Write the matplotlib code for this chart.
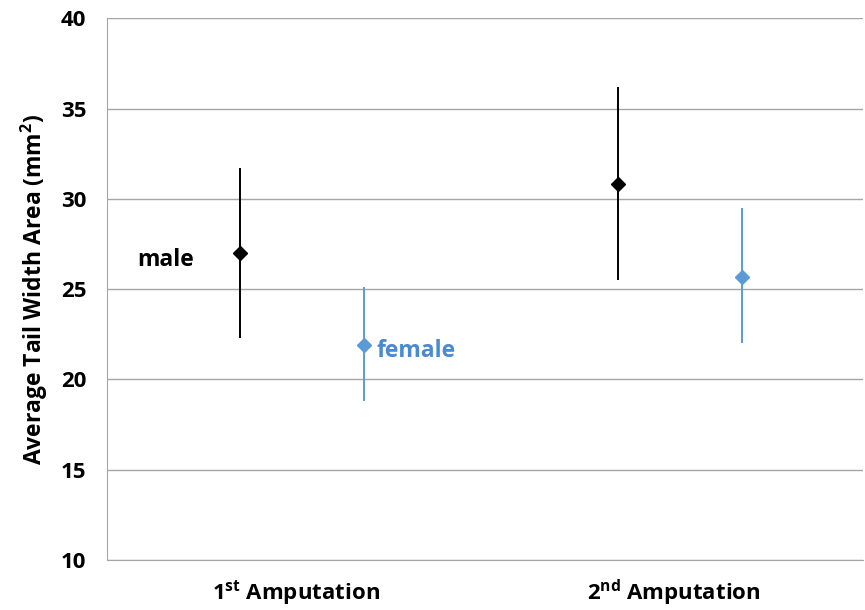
import matplotlib
matplotlib.use("Agg")
from matplotlib import pyplot

categories = ["1$^{\\mathrm{st}}$ Amputation", "2$^{\\mathrm{nd}}$ Amputation"]
male_mean = [27.0, 30.8]
male_low = [22.3, 25.5]
male_high = [31.7, 36.2]
female_mean = [21.9, 25.7]
female_low = [18.8, 22.0]
female_high = [25.1, 29.5]

BLACK = "#000000"
BLUE = "#5b9bd5"
GRID = "#a6a6a6"

pyplot.rcParams["font.family"] = ["Open Sans", "DejaVu Sans"]
pyplot.rcParams["font.weight"] = "bold"
pyplot.rcParams["mathtext.fontset"] = "custom"
pyplot.rcParams["mathtext.rm"] = "Open Sans:bold"
pyplot.rcParams["mathtext.bf"] = "Open Sans:bold"

figure = pyplot.figure(figsize=(8.65, 6.1), dpi=100)
axis = figure.add_axes([0.124, 0.082, 0.874, 0.888])

centers = [i + 0.5 for i in range(len(categories))]
male_x = [c - 0.15 for c in centers]
female_x = [c + 0.18 for c in centers]


def draw_series(xs, means, lows, highs, color):
    err = [[m - lo for m, lo in zip(means, lows)],
           [hi - m for m, hi in zip(means, highs)]]
    axis.errorbar(xs, means, yerr=err, fmt="D", color=color, ecolor=color,
                  elinewidth=1.4, capsize=0, markersize=7.5, zorder=3)


draw_series(male_x, male_mean, male_low, male_high, BLACK)
draw_series(female_x, female_mean, female_low, female_high, BLUE)

axis.text(0.08, 26.6, "male", color=BLACK, fontsize=16.5, fontweight="bold",
          va="center", ha="left")
axis.text(0.712, 21.6, "female", color="#4a8ad0", fontsize=16.5, fontweight="bold",
          va="center", ha="left")

axis.set_xlim(0, 2)
axis.set_ylim(10, 40)
axis.set_yticks(range(10, 41, 5))
axis.set_xticks(centers)
axis.set_xticklabels(categories, fontsize=16, fontweight="bold")
axis.tick_params(axis="y", length=0, labelsize=16, pad=15)
axis.tick_params(axis="x", length=0, pad=13)
for label in axis.get_yticklabels():
    label.set_fontweight("bold")

axis.yaxis.grid(True, color=GRID, linewidth=1)
axis.set_axisbelow(True)
for side in ["top", "right"]:
    axis.spines[side].set_visible(False)
axis.spines["left"].set_color(GRID)
axis.spines["bottom"].set_color(GRID)

axis.set_ylabel("Average Tail Width Area (mm$^{\\mathrm{2}}$)", fontsize=16.5,
                fontweight="bold", labelpad=8)

figure.savefig("out.png", dpi=100)
